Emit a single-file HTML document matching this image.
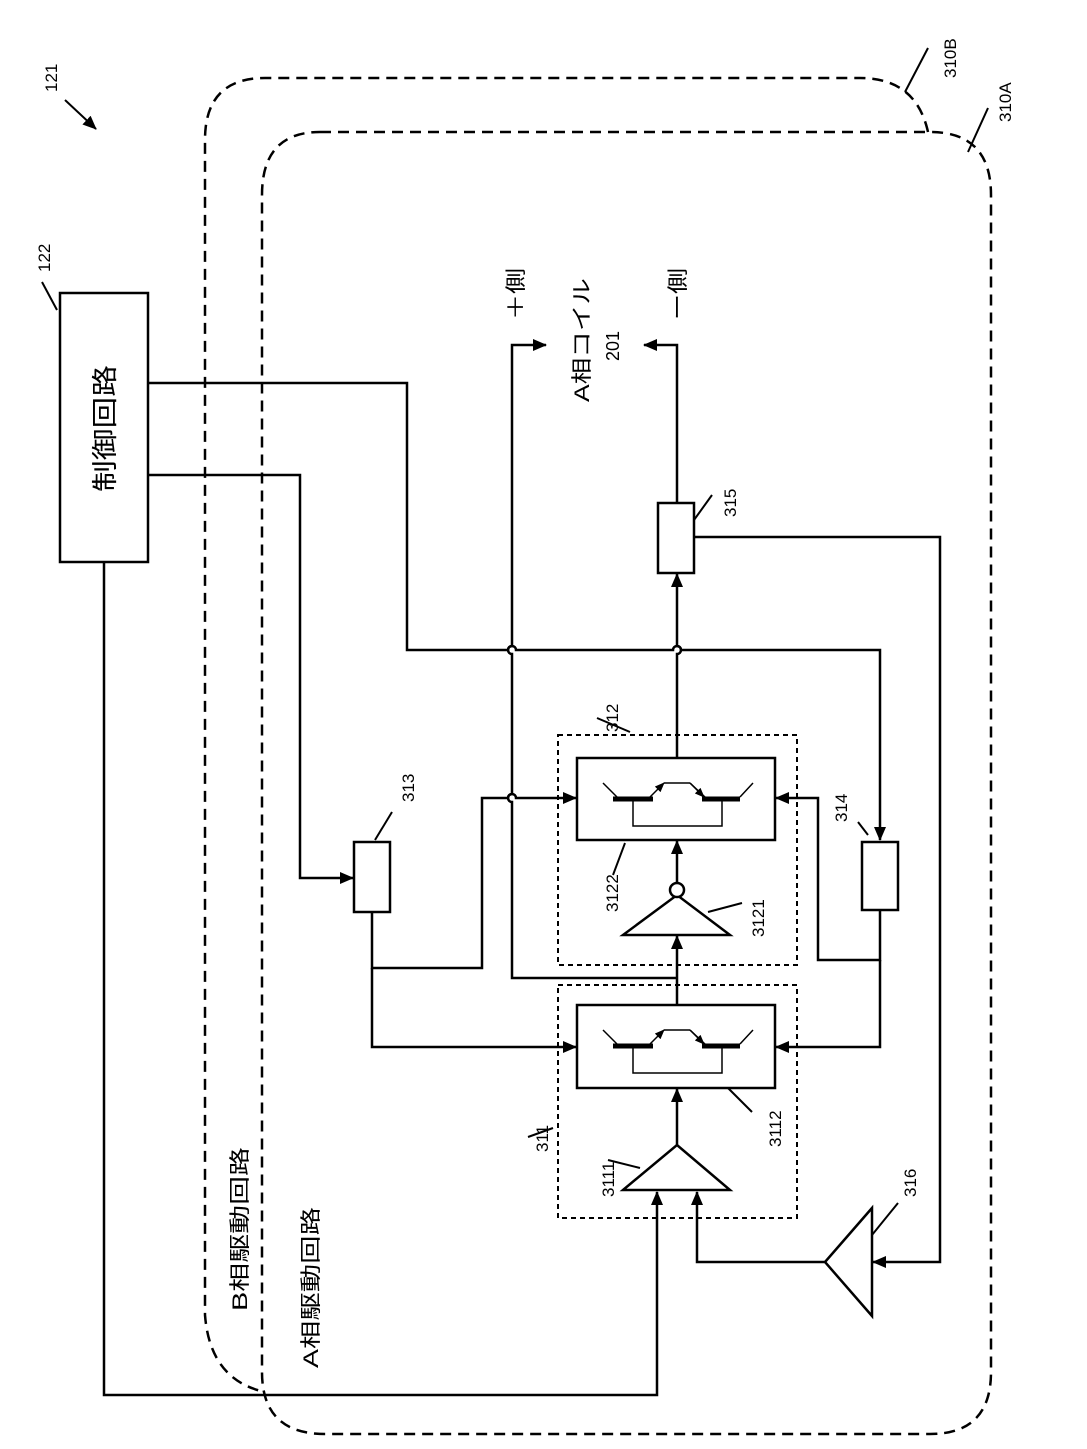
<!DOCTYPE html>
<html><head><meta charset="utf-8"><style>
html,body{margin:0;padding:0;background:#fff}
svg{display:block}
text{font-family:"Liberation Sans","Noto Sans CJK JP",sans-serif;fill:#000}
</style></head><body>
<svg width="1087" height="1449" viewBox="0 0 1087 1449" xmlns="http://www.w3.org/2000/svg">
<defs>
<marker id="ah" markerWidth="14" markerHeight="12" refX="13" refY="6" orient="auto" markerUnits="userSpaceOnUse">
<path d="M0,0 L14,6 L0,12 z" fill="#000"/></marker>
<marker id="as" markerWidth="10" markerHeight="8" refX="9" refY="4" orient="auto" markerUnits="userSpaceOnUse">
<path d="M0,0 L10,4 L0,8 z" fill="#000"/></marker>
</defs>
<g fill="none" stroke="#000" stroke-width="2.5" stroke-dasharray="11,7">
<path d="M928 132 Q916 78 860 78 L265 78 Q205 78 205 140 L205 1315 Q210 1380 265 1392"/>
<path d="M320 132 L930 132 Q991 132 991 195 L991 1372 Q991 1434 930 1434 L325 1434 Q262 1434 262 1372 L262 195 Q262 132 320 132 Z"/>
</g>
<g fill="none" stroke="#000" stroke-width="2" stroke-dasharray="5,4">
<rect x="558" y="735" width="239" height="230"/>
<rect x="558" y="985" width="239" height="233"/>
</g>
<g fill="none" stroke="#000" stroke-width="2.5">
<rect x="60" y="293" width="88" height="269"/>
<rect x="354" y="842" width="36" height="70"/>
<rect x="862" y="842" width="36" height="68"/>
<rect x="658" y="503" width="36" height="70"/>
<rect x="577" y="758" width="198" height="82"/>
<rect x="577" y="1005" width="198" height="83"/>
<path d="M148 383 L407 383 L407 650 L508 650 A4 4 0 0 1 516 650 L673 650 A4 4 0 0 1 681 650 L880 650 L880 840" marker-end="url(#ah)"/>
<path d="M148 475 L300 475 L300 878 L353 878" marker-end="url(#ah)"/>
<path d="M104 562 L104 1395 L657 1395 L657 1192" marker-end="url(#ah)"/>
<path d="M372 912 L372 968 L482 968 L482 798 L508 798 A4 4 0 0 1 516 798 L576 798" marker-end="url(#ah)"/>
<path d="M372 968 L372 1047 L576 1047" marker-end="url(#ah)"/>
<path d="M880 910 L880 960 L818 960 L818 798 L776 798" marker-end="url(#ah)"/>
<path d="M880 960 L880 1047 L776 1047" marker-end="url(#ah)"/>
<path d="M677 1145 L677 1089" marker-end="url(#ah)"/>
<path d="M677 1005 L677 936" marker-end="url(#ah)"/>
<path d="M677 883 L677 841" marker-end="url(#ah)"/>
<path d="M677 758 L677 654 A4 4 0 0 0 677 646 L677 574" marker-end="url(#ah)"/>
<path d="M677 503 L677 345 L644 345" marker-end="url(#ah)"/>
<path d="M677 978 L512 978 L512 802 A4 4 0 0 1 512 794 L512 654 A4 4 0 0 1 512 646 L512 345 L546 345" marker-end="url(#ah)"/>
<path d="M694 537 L940 537 L940 1262 L873 1262" marker-end="url(#ah)"/>
<path d="M825 1262 L697 1262 L697 1192" marker-end="url(#ah)"/>
<path d="M623 1190 L677 1145 L730 1190 Z"/>
<path d="M623 935 L677 895 L730 935 Z"/>
<circle cx="677" cy="890" r="7" fill="#fff"/>
<path d="M872 1208 L825 1262 L872 1316 Z"/>
</g>
<g id="sw" stroke="#000" fill="none">
<path d="M613 799 L653 799 M702 799 L740 799" stroke-width="5"/>
<path d="M633 801 L633 826 L722 826 L722 801" stroke-width="1.5"/>
<path d="M603 783 L617 797 M740 797 L753 783 M690 783 L705 797" stroke-width="1.5"/>
<path d="M650 797 L664 783" stroke-width="1.5" marker-end="url(#as)"/>
<path d="M664 783 L690 783" stroke-width="1.5"/>
<path d="M690 783 L704 797" stroke-width="1.5" marker-end="url(#as)"/>
</g>
<use href="#sw" transform="translate(0,247)"/>
<g stroke="#000" stroke-width="2" fill="none">
<path d="M65 100 L96 129" marker-end="url(#ah)"/>
<path d="M42 282 L57 310"/>
<path d="M905 92 L928 48"/>
<path d="M968 152 L988 108"/>
<path d="M375 840 L392 812"/>
<path d="M597 718 L630 732"/>
<path d="M868 835 L858 822"/>
<path d="M694 520 L712 495"/>
<path d="M625 843 L613 875"/>
<path d="M708 912 L742 903"/>
<path d="M728 1088 L752 1112"/>
<path d="M553 1128 L528 1137"/>
<path d="M640 1168 L608 1160"/>
<path d="M872 1235 L898 1203"/>
</g>
<g font-size="17">
<text transform="translate(57,92) rotate(-90)">121</text>
<text transform="translate(50,272) rotate(-90)">122</text>
<text transform="translate(956,78) rotate(-90)">310B</text>
<text transform="translate(1011,122) rotate(-90)">310A</text>
<text transform="translate(414,802) rotate(-90)">313</text>
<text transform="translate(618,732) rotate(-90)">312</text>
<text transform="translate(847,822) rotate(-90)">314</text>
<text transform="translate(736,517) rotate(-90)">315</text>
<text transform="translate(618,912) rotate(-90)">3122</text>
<text transform="translate(764,937) rotate(-90)">3121</text>
<text transform="translate(781,1147) rotate(-90)">3112</text>
<text transform="translate(548,1152) rotate(-90)">311</text>
<text transform="translate(614,1197) rotate(-90)">3111</text>
<text transform="translate(916,1197) rotate(-90)">316</text>
<text transform="translate(619,361) rotate(-90)" font-size="18">201</text>
</g>
<g font-size="21">
<text transform="translate(114,492) rotate(-90)" font-size="26" textLength="127" lengthAdjust="spacingAndGlyphs">制御回路</text>
<text transform="translate(523,320) rotate(-90)" textLength="52" lengthAdjust="spacingAndGlyphs">＋側</text>
<text transform="translate(589,402) rotate(-90)" textLength="124" lengthAdjust="spacingAndGlyphs">A相コイル</text>
<text transform="translate(685,320) rotate(-90)" textLength="52" lengthAdjust="spacingAndGlyphs">ー側</text>
<text transform="translate(247,1311) rotate(-90)" textLength="164" lengthAdjust="spacingAndGlyphs">B相駆動回路</text>
<text transform="translate(318,1368) rotate(-90)" textLength="161" lengthAdjust="spacingAndGlyphs">A相駆動回路</text>
</g>
</svg>
</body></html>
